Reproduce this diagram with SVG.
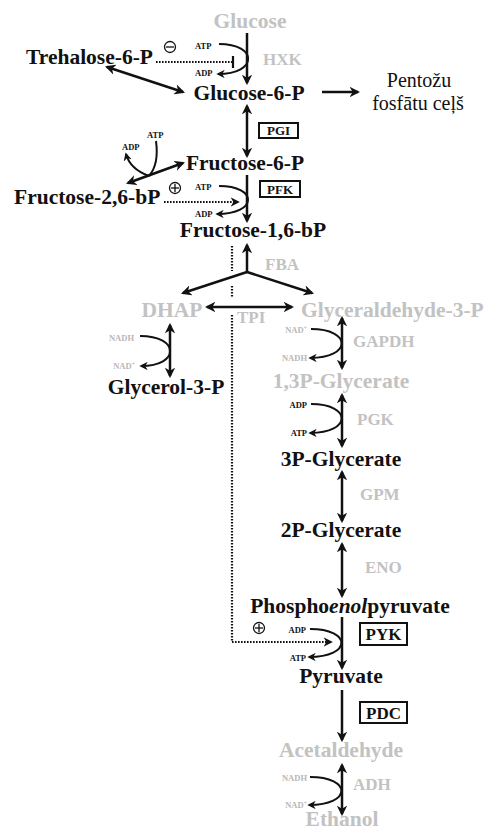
<svg xmlns="http://www.w3.org/2000/svg" width="489" height="831" viewBox="0 0 489 831">
<style>
.m{font-family:"Liberation Serif","Times New Roman",serif;font-weight:bold;font-size:21.5px;fill:#111}
.g{fill:#c2c2c2}
.e{font-family:"Liberation Serif","Times New Roman",serif;font-weight:bold;font-size:17px;fill:#c2c2c2}
.s{font-family:"Liberation Serif","Times New Roman",serif;font-weight:bold;font-size:8.5px;fill:#111}
.sg{fill:#b8b8b8}
.bx{font-family:"Liberation Serif","Times New Roman",serif;font-weight:bold;fill:#111}
.r{font-family:"Liberation Serif","Times New Roman",serif;font-size:20px;fill:#111}
.a{fill:none;stroke:#111;stroke-width:2.5}
.c{fill:none;stroke:#111;stroke-width:2}
.d{fill:none;stroke:#111;stroke-width:2.2;stroke-dasharray:1.6 1.4}
.box{fill:#fff;stroke:#111;stroke-width:2}
.sym{fill:none;stroke:#111;stroke-width:1.3}
</style>
<defs>
<marker id="ah" viewBox="0 0 10 10" refX="8" refY="5" markerWidth="4.2" markerHeight="4.2" orient="auto-start-reverse" markerUnits="strokeWidth"><path d="M0,0 L10,5 L0,10 L3,5 z" fill="#111"/></marker>
</defs>
<rect width="489" height="831" fill="#fff"/>

<g id="connectors">
<line class="a" x1="247" y1="33" x2="247" y2="83" marker-end="url(#ah)"/>
<line class="a" x1="247" y1="106" x2="247" y2="156" marker-start="url(#ah)" marker-end="url(#ah)"/>
<line class="a" x1="247" y1="175" x2="247" y2="221" marker-end="url(#ah)"/>
<line class="a" x1="247" y1="272" x2="247" y2="245" marker-end="url(#ah)"/>
<line class="a" x1="247" y1="272" x2="183" y2="293" marker-end="url(#ah)"/>
<line class="a" x1="247" y1="272" x2="312" y2="293" marker-end="url(#ah)"/>
<line class="a" x1="207" y1="307" x2="292" y2="307" marker-start="url(#ah)" marker-end="url(#ah)"/>
<line class="a" x1="170" y1="325" x2="170" y2="376" marker-start="url(#ah)" marker-end="url(#ah)"/>
<line class="a" x1="342" y1="318" x2="342" y2="368" marker-start="url(#ah)" marker-end="url(#ah)"/>
<line class="a" x1="342" y1="395" x2="342" y2="446" marker-start="url(#ah)" marker-end="url(#ah)"/>
<line class="a" x1="342" y1="472" x2="342" y2="521" marker-start="url(#ah)" marker-end="url(#ah)"/>
<line class="a" x1="342" y1="544" x2="342" y2="596" marker-start="url(#ah)" marker-end="url(#ah)"/>
<line class="a" x1="342" y1="617" x2="342" y2="668" marker-end="url(#ah)"/>
<line class="a" x1="342" y1="690" x2="342" y2="740" marker-end="url(#ah)"/>
<line class="a" x1="342" y1="765" x2="342" y2="814" marker-start="url(#ah)" marker-end="url(#ah)"/>
<line class="a" x1="107" y1="67" x2="183" y2="92" marker-start="url(#ah)" marker-end="url(#ah)"/>
<line class="a" x1="322" y1="92" x2="358" y2="92" marker-end="url(#ah)"/>
<line class="a" x1="128" y1="183" x2="183" y2="163" marker-start="url(#ah)" marker-end="url(#ah)"/>
<path class="c" d="M156,141 C158,156 156,168 149,176"/>
<path class="c" d="M149,176 C138,172 129,165 126,154" marker-end="url(#ah)"/>
<path class="c" d="M219,44 C258,44 258,74 218,74" marker-end="url(#ah)"/>
<path class="c" d="M219,186 C258,186 258,214 217,214" marker-end="url(#ah)"/>
<path class="c" d="M140,336 C180,336 180,366 141,366" marker-end="url(#ah)"/>
<path class="c" d="M311,329 C352,329 352,358 310,358" marker-end="url(#ah)"/>
<path class="c" d="M311,404 C352,404 352,433 310,433" marker-end="url(#ah)"/>
<path class="c" d="M310,629 C352,629 352,657 309,657" marker-end="url(#ah)"/>
<path class="c" d="M310,777 C352,777 352,805 309,805" marker-end="url(#ah)"/>
<line class="d" x1="156" y1="62" x2="232" y2="62"/>
<line x1="233" y1="56" x2="233" y2="68" stroke="#111" stroke-width="2.2"/>
<line class="d" x1="164" y1="202" x2="238" y2="202" marker-end="url(#ah)"/>
<line class="d" x1="232" y1="246" x2="232" y2="271"/>
<line class="d" x1="232" y1="286" x2="232" y2="298"/>
<line class="d" x1="232" y1="315" x2="232" y2="642"/>
<line class="d" x1="232" y1="642" x2="331" y2="642" marker-end="url(#ah)"/>
<circle class="sym" cx="170" cy="47" r="5.5"/>
<line class="sym" x1="166" y1="47" x2="174" y2="47"/>
<circle class="sym" cx="175" cy="188" r="5.5"/>
<line class="sym" x1="171" y1="188" x2="179" y2="188"/>
<line class="sym" x1="175" y1="184" x2="175" y2="192"/>
<circle class="sym" cx="259" cy="628" r="5.5"/>
<line class="sym" x1="255" y1="628" x2="263" y2="628"/>
<line class="sym" x1="259" y1="624" x2="259" y2="632"/>
</g>

<g id="glucose"><text class="m g" x="250" y="28" text-anchor="middle">Glucose</text></g>
<g id="trehalose6p"><text class="m" x="26" y="64">Trehalose-6-P</text></g>
<g id="glucose6p"><text class="m" x="249" y="100" text-anchor="middle">Glucose-6-P</text></g>
<g id="pentose"><text class="r" x="419" y="87" text-anchor="middle">Pentožu</text><text class="r" x="418" y="110" text-anchor="middle">fosfātu ceļš</text></g>
<g id="fructose6p"><text class="m" x="245" y="170" text-anchor="middle">Fructose-6-P</text></g>
<g id="fructose26bp"><text class="m" x="14" y="204">Fructose-2,6-bP</text></g>
<g id="fructose16bp"><text class="m" x="253" y="237" text-anchor="middle">Fructose-1,6-bP</text></g>
<g id="dhap"><text class="m g" x="172" y="317" text-anchor="middle">DHAP</text></g>
<g id="gap"><text class="m g" x="301" y="317">Glyceraldehyde-3-P</text></g>
<g id="glycerol3p"><text class="m" x="166" y="394" text-anchor="middle">Glycerol-3-P</text></g>
<g id="bpg13"><text class="m g" x="341" y="388" text-anchor="middle">1,3P-Glycerate</text></g>
<g id="pg3"><text class="m" x="341" y="466" text-anchor="middle">3P-Glycerate</text></g>
<g id="pg2"><text class="m" x="341" y="537" text-anchor="middle">2P-Glycerate</text></g>
<g id="pep"><text class="m" x="350" y="613" text-anchor="middle">Phospho<tspan font-style="italic">enol</tspan>pyruvate</text></g>
<g id="pyruvate"><text class="m" x="341" y="683" text-anchor="middle">Pyruvate</text></g>
<g id="acetaldehyde"><text class="m g" x="341" y="757" text-anchor="middle">Acetaldehyde</text></g>
<g id="ethanol"><text class="m g" x="342" y="826" text-anchor="middle">Ethanol</text></g>

<g id="enzymes">
<text class="e" x="263" y="65">HXK</text>
<text class="e" x="265" y="270">FBA</text>
<text class="e" x="237" y="323">TPI</text>
<text class="e" x="353" y="347">GAPDH</text>
<text class="e" x="357" y="425">PGK</text>
<text class="e" x="360" y="500">GPM</text>
<text class="e" x="365" y="573">ENO</text>
<text class="e" x="353" y="790">ADH</text>
</g>
<g id="pgi"><rect class="box" x="259" y="123" width="39" height="15"/><text class="bx" x="278.5" y="135" font-size="13" text-anchor="middle">PGI</text></g>
<g id="pfk"><rect class="box" x="260" y="181" width="40" height="16"/><text class="bx" x="280" y="194" font-size="13" text-anchor="middle">PFK</text></g>
<g id="pyk"><rect class="box" x="360" y="623" width="47" height="22"/><text class="bx" x="383.5" y="640" font-size="17" text-anchor="middle">PYK</text></g>
<g id="pdc"><rect class="box" x="360" y="702" width="47" height="21"/><text class="bx" x="383.5" y="719" font-size="17" text-anchor="middle">PDC</text></g>

<g id="cofactors">
<text class="s" x="195" y="49">ATP</text>
<text class="s" x="195" y="76">ADP</text>
<text class="s" x="147" y="138">ATP</text>
<text class="s" x="122" y="150">ADP</text>
<text class="s" x="195" y="190">ATP</text>
<text class="s" x="195" y="217">ADP</text>
<text class="s sg" x="134" y="341" text-anchor="end">NADH</text>
<text class="s sg" x="135" y="369" text-anchor="end">NAD<tspan font-size="6" dy="-3">+</tspan></text>
<text class="s sg" x="307" y="333" text-anchor="end">NAD<tspan font-size="6" dy="-3">+</tspan></text>
<text class="s sg" x="307" y="361" text-anchor="end">NADH</text>
<text class="s" x="307" y="408" text-anchor="end">ADP</text>
<text class="s" x="307" y="436" text-anchor="end">ATP</text>
<text class="s" x="306" y="633" text-anchor="end">ADP</text>
<text class="s" x="306" y="661" text-anchor="end">ATP</text>
<text class="s sg" x="307" y="781" text-anchor="end">NADH</text>
<text class="s sg" x="307" y="808" text-anchor="end">NAD<tspan font-size="6" dy="-3">+</tspan></text>
</g>
</svg>
